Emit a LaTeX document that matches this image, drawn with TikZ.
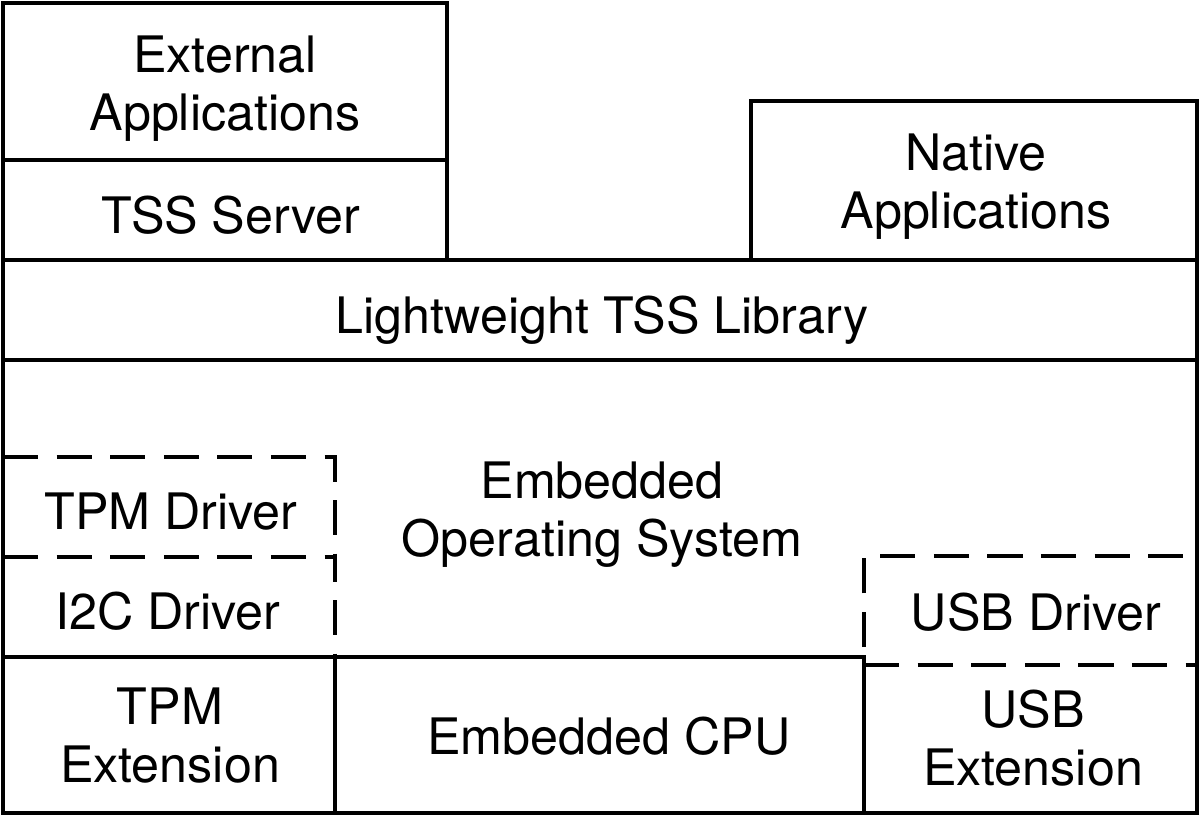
\documentclass[tikz,border=0pt]{standalone}
\usepackage{fontspec}
\setmainfont{TeX Gyre Heros}

\begin{document}
\begin{tikzpicture}[x=0.02cm, y=-0.02cm, line width=2.3pt,
    font=\fontsize{28.6}{33}\selectfont,
    drv/.style={dash pattern=on 20pt off 10.5pt},
    lbl/.style={align=center, inner sep=0pt}]

      \useasboundingbox (0,0) rectangle (1200,817);

      % upper boxes
      \draw (3,3) rectangle (447,160);
      \draw (3,160) rectangle (447,260);
      \draw (751,101) rectangle (1197,260);

      % library, OS and hardware
      \draw (3,260) rectangle (1197,360);
      \draw (3,360) -- (3,813) -- (1197,813) -- (1197,360);
      \draw (3,657) -- (864,657) -- (864,813);
      \draw (335,657) -- (335,813);

      % drivers
      \draw [drv] (3,457) -| (335,557);
      \draw [drv] (3,557) -| (335,657);
      \draw [drv] (864,647) |- (1197,556);
      \draw [drv] (864,665) -- (1197,665);

      \node [lbl] (ext) at (225,89) {External\\Applications};
      \node [lbl] (tss) at (231,215) {TSS Server};
      \node [lbl] (nat) at (976,187) {Native\\Applications};
      \node [lbl] (lib) at (602,320) {Lightweight TSS Library};
      \node [lbl] (eos) at (602,515) {Embedded\\Operating System};
      \node [lbl] (tpmdrv) at (171,512) {TPM Driver};
      \node [lbl] (i2cdrv) at (168,611) {I2C Driver};
      \node [lbl] (usbdrv) at (1036,612) {USB Driver};
      \node [lbl] (tpmext) at (170,736) {TPM\\Extension};
      \node [lbl] (cpu) at (609,736) {Embedded CPU};
      \node [lbl] (usbext) at (1033,738) {USB\\Extension};

    \end{tikzpicture}
\end{document}
